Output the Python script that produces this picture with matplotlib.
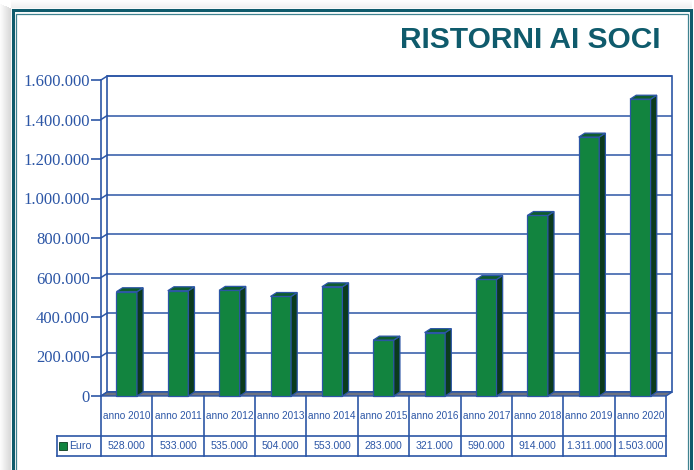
"""Ristorni ai soci 2010-2020: 3D-style bar chart with data table."""

import matplotlib

matplotlib.use("Agg")
import matplotlib.pyplot as plt
import matplotlib.transforms as mtransforms
from matplotlib.lines import Line2D
from matplotlib.patches import Polygon, Rectangle


TITLE = "RISTORNI AI SOCI"
SERIES = "Euro"
YEARS = [2010, 2011, 2012, 2013, 2014, 2015, 2016, 2017, 2018, 2019, 2020]
CATEGORIES = [f"anno {year}" for year in YEARS]
EURO = [528000, 533000, 535000, 504000, 553000, 283000, 321000, 590000, 914000, 1311000, 1503000]
Y_TICKS = [0, 200000, 400000, 600000, 800000, 1000000, 1200000, 1400000, 1600000]

W, H = 694, 470
GREEN = "#12843f"
GREEN_SIDE = "#0b3b1d"
GREEN_TOP = "#0e5d2d"
BLUE = "#2c56a6"
TEAL = "#0f5b6c"
TEAL_LIGHT = "#3f8290"
FLOOR = "#6e7380"
DX, DY = 0.12, 20000
BAR_W = 0.40
SANS = "Liberation Sans"


def fx(px: float) -> float:
    return px / W


def fy(py: float) -> float:
    return 1 - py / H


def dotted(value: int) -> str:
    return f"{value:,}".replace(",", ".")


def draw_frame(fig) -> None:
    # soft shadow left / top of the frame
    for i in range(11):
        alpha = 0.02 + 0.022 * i
        fig.patches.append(Rectangle((fx(i), 0), fx(1), fy(4 + i * 0.4), transform=fig.transFigure,
                                     color="#606060", alpha=alpha, lw=0, zorder=0))
    for i in range(8):
        fig.patches.append(Rectangle((fx(11), fy(i + 1)), fx(681), 1 / H, transform=fig.transFigure,
                                     color="#808080", alpha=0.01 + 0.015 * i, lw=0, zorder=0))
    outer = Line2D([fx(12.5), fx(12.5), fx(691), fx(691)], [fy(480), fy(9.5), fy(9.5), fy(480)],
                   transform=fig.transFigure, color=TEAL, lw=2.2, solid_joinstyle="miter")
    inner = Line2D([fx(16), fx(16), fx(687.5), fx(687.5)], [fy(480), fy(13.5), fy(13.5), fy(480)],
                   transform=fig.transFigure, color=TEAL_LIGHT, lw=0.9, solid_joinstyle="miter")
    fig.lines.extend([outer, inner])


def draw_chart(ax) -> None:
    n = len(CATEGORIES)
    left, right = -0.5, n - 0.5
    top = Y_TICKS[-1]
    ax.set_xlim(left, right)
    ax.set_ylim(0, top)
    ax.patch.set_visible(False)
    for side in ("top", "right", "bottom"):
        ax.spines[side].set_visible(False)
    ax.spines["left"].set_color(BLUE)
    ax.spines["left"].set_linewidth(1.2)
    ax.set_xticks([])
    ax.set_yticks(Y_TICKS, [dotted(v) for v in Y_TICKS])
    ax.tick_params(axis="y", length=7, width=1.2, color=BLUE, labelcolor=BLUE, labelsize=12, pad=1)
    for label in ax.get_yticklabels():
        label.set_fontfamily("Liberation Serif")

    # back wall and grid
    ax.add_patch(Rectangle((left + DX, DY), right - left, top, facecolor="white", edgecolor=BLUE,
                           lw=1.2, zorder=0.5, clip_on=False))
    ax.hlines([v + DY for v in Y_TICKS], left + DX, right + DX, color=BLUE, lw=1.1, zorder=1, clip_on=False)
    # left wall
    for v in Y_TICKS:
        ax.plot([left, left + DX], [v, v + DY], color=BLUE, lw=1.1, zorder=1, clip_on=False)
    # floor
    ax.add_patch(Polygon([(left, 0), (right, 0), (right + DX, DY), (left + DX, DY)], closed=True,
                         facecolor=FLOOR, edgecolor=BLUE, lw=1.0, zorder=2, clip_on=False))

    # bars
    xs = list(range(n))
    ax.bar(xs, EURO, width=BAR_W, color=GREEN, edgecolor=BLUE, lw=0.9, zorder=3, clip_on=False)
    for x, v in zip(xs, EURO):
        x0, x1 = x - BAR_W / 2, x + BAR_W / 2
        ax.add_patch(Polygon([(x1, 0), (x1 + DX, DY), (x1 + DX, v + DY), (x1, v)], closed=True,
                             facecolor=GREEN_SIDE, edgecolor=BLUE, lw=0.9, zorder=3, clip_on=False))
        ax.add_patch(Polygon([(x0, v), (x1, v), (x1 + DX, v + DY), (x0 + DX, v + DY)], closed=True,
                             facecolor=GREEN_TOP, edgecolor=BLUE, lw=0.9, zorder=3, clip_on=False))

    # data table under the plot
    row1 = -40 / 316
    row2 = -60 / 316
    legend_left = (57 - 101) / 565
    blend = mtransforms.blended_transform_factory(ax.transData, ax.transAxes)
    for i in range(n + 1):
        ax.plot([left + i, left + i], [0, row2], transform=blend, color=BLUE, lw=1.2, clip_on=False)
    for yy in (row1, row2):
        ax.plot([legend_left, 1], [yy, yy], transform=ax.transAxes, color=BLUE, lw=1.2, clip_on=False)
    ax.plot([legend_left, legend_left], [row1, row2], transform=ax.transAxes, color=BLUE, lw=1.2,
            clip_on=False)
    for x, cat, v in zip(xs, CATEGORIES, EURO):
        ax.text(x, row1 / 2, cat, transform=blend, ha="center", va="center", fontsize=7.2,
                color=BLUE, family=SANS)
        ax.text(x, (row1 + row2) / 2, dotted(v), transform=blend, ha="center", va="center",
                fontsize=7.6, color=BLUE, family=SANS)
    ax.plot([(63 - 101) / 565], [(row1 + row2) / 2], transform=ax.transAxes, marker="s", ms=5.5,
            color=GREEN, mec=GREEN_SIDE, mew=0.6, clip_on=False)
    ax.text((69 - 101) / 565, (row1 + row2) / 2, SERIES, transform=ax.transAxes, ha="left",
            va="center", fontsize=7.6, color=BLUE, family=SANS)


def main() -> int:
    fig = plt.figure(figsize=(W / 100, H / 100), dpi=100, facecolor="white")
    draw_frame(fig)
    fig.text(fx(661), fy(40), TITLE, ha="right", va="center", fontsize=21.5, color=TEAL,
             family=SANS, fontweight="bold")
    ax = fig.add_axes([fx(101), fy(396), (666 - 101) / W, (396 - 80) / H])
    draw_chart(ax)
    fig.savefig("out.png", dpi=100, facecolor="white")
    plt.close(fig)
    return 0


if __name__ == "__main__":
    raise SystemExit(main())
